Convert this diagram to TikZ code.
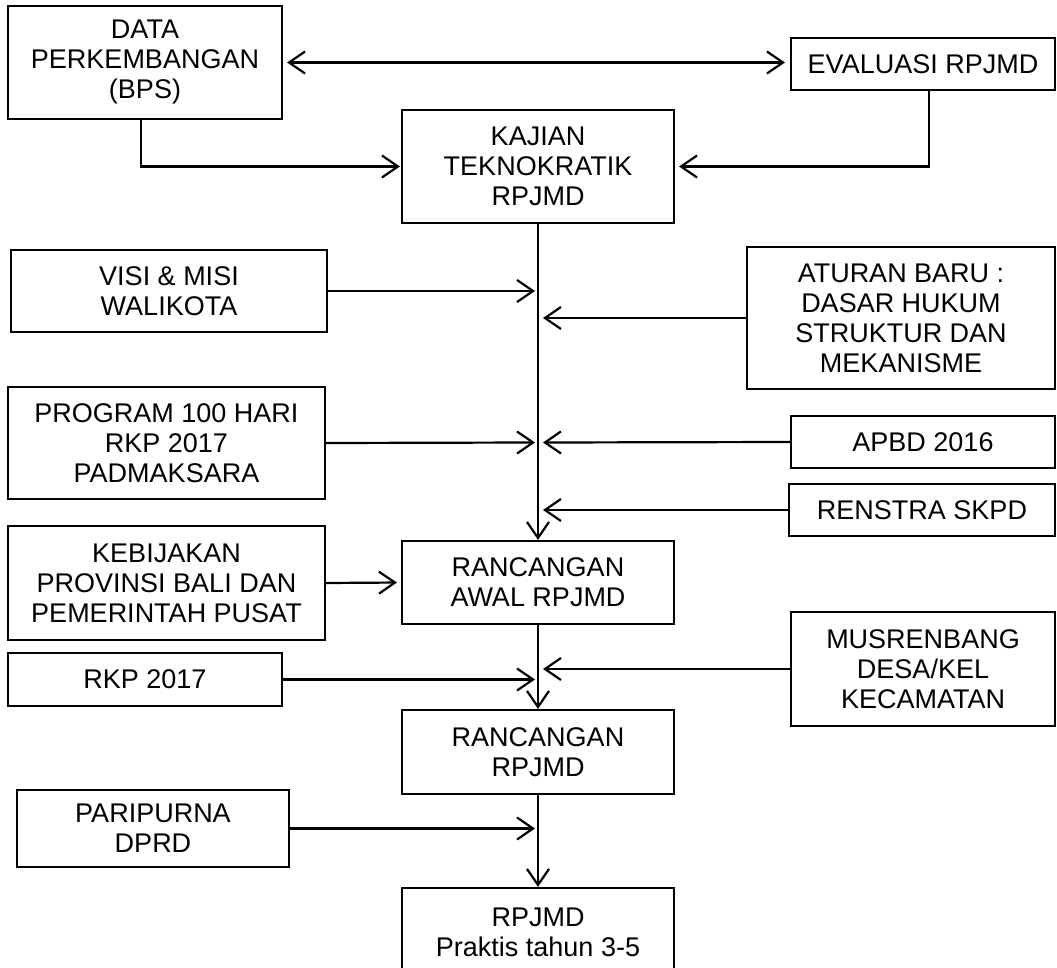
\documentclass[tikz,border=0pt]{standalone}
\usepackage{fontspec}
\setmainfont{Liberation Sans}
\usetikzlibrary{arrows.meta}

\begin{document}
\begin{tikzpicture}[
    x=1pt, y=-1pt,
    line width=2.2pt,
    font=\fontsize{27}{30}\selectfont,
    box/.style={draw, align=center, inner sep=0pt},
    >={Straight Barb[length=16pt,width=22pt]}
]
\useasboundingbox (0,0) rectangle (1057,968);

% top row
\node[box, minimum width=274pt, minimum height=113pt] (data) at (145,62.5) {DATA\\PERKEMBANGAN\\(BPS)};
\node[box, minimum width=264pt, minimum height=52pt] (eval) at (923,64) {EVALUASI RPJMD};
\node[box, minimum width=272pt, minimum height=113pt] (kajian) at (538,166.5) {KAJIAN\\TEKNOKRATIK\\RPJMD};

% left column
\node[box, minimum width=316pt, minimum height=82pt] (visi) at (169,291) {VISI \& MISI\\WALIKOTA};
\node[box, minimum width=317pt, minimum height=112pt] (program) at (166.5,443) {PROGRAM 100 HARI\\RKP 2017\\PADMAKSARA};
\node[box, minimum width=317pt, minimum height=114pt] (kebijakan) at (166.5,583) {KEBIJAKAN\\PROVINSI BALI DAN\\PEMERINTAH PUSAT};
\node[box, minimum width=274pt, minimum height=53pt] (rkp) at (145,679.5) {RKP 2017};
\node[box, minimum width=272pt, minimum height=77pt] (paripurna) at (153,828.5) {PARIPURNA\\DPRD};

% right column
\node[box, minimum width=308pt, minimum height=142pt] (aturan) at (901,318) {ATURAN BARU :\\DASAR HUKUM\\STRUKTUR DAN\\MEKANISME};
\node[box, minimum width=264pt, minimum height=52pt] (apbd) at (923,442) {APBD 2016};
\node[box, minimum width=266pt, minimum height=52pt] (renstra) at (922,510) {RENSTRA SKPD};
\node[box, minimum width=264pt, minimum height=114pt] (musren) at (923,669) {MUSRENBANG\\DESA/KEL\\KECAMATAN};

% middle column
\node[box, minimum width=272pt, minimum height=83pt] (awal) at (538,582.5) {RANCANGAN\\AWAL RPJMD};
\node[box, minimum width=272pt, minimum height=84pt] (ranc) at (538,752) {RANCANGAN\\RPJMD};
\node[box, minimum width=272pt, minimum height=88pt] (rpjmd) at (538,932) {RPJMD\\Praktis tahun 3-5};

% points on the main line
\coordinate (l1) at (535,291);
\coordinate (r1) at (543,318);
\coordinate (l2) at (535,442.5);
\coordinate (r2) at (543,442.5);
\coordinate (r3) at (543,510);
\coordinate (l3) at (535,679.5);
\coordinate (r4) at (543,669);
\coordinate (l4) at (535,828.5);

\draw[<->, shorten <=4pt, shorten >=5pt] (data.east) -- (data.east -| eval.west);
\draw[->, shorten >=1pt] ([xshift=-4pt]data.south) |- (kajian.west);
\draw[->, shorten >=4pt] ([xshift=6pt]eval.south) |- (kajian.east);

\draw[->] (kajian.south) -- (awal.north);
\draw[->] (awal.south) -- (ranc.north);
\draw[->] (ranc.south) -- (rpjmd.north);

\draw[->] (visi.east) -- (l1);
\draw[->] (aturan.west) -- (r1);
\draw[->] (program.east) -- (l2);
\draw[->] (apbd.west) -- (r2);
\draw[->] (renstra.west) -- (r3);
\draw[->, shorten >=4pt] (kebijakan.east) -- (awal.west);
\draw[->] (rkp.east) -- (l3);
\draw[->] (musren.west) -- (r4);
\draw[->] (paripurna.east) -- (l4);

\end{tikzpicture}
\end{document}
